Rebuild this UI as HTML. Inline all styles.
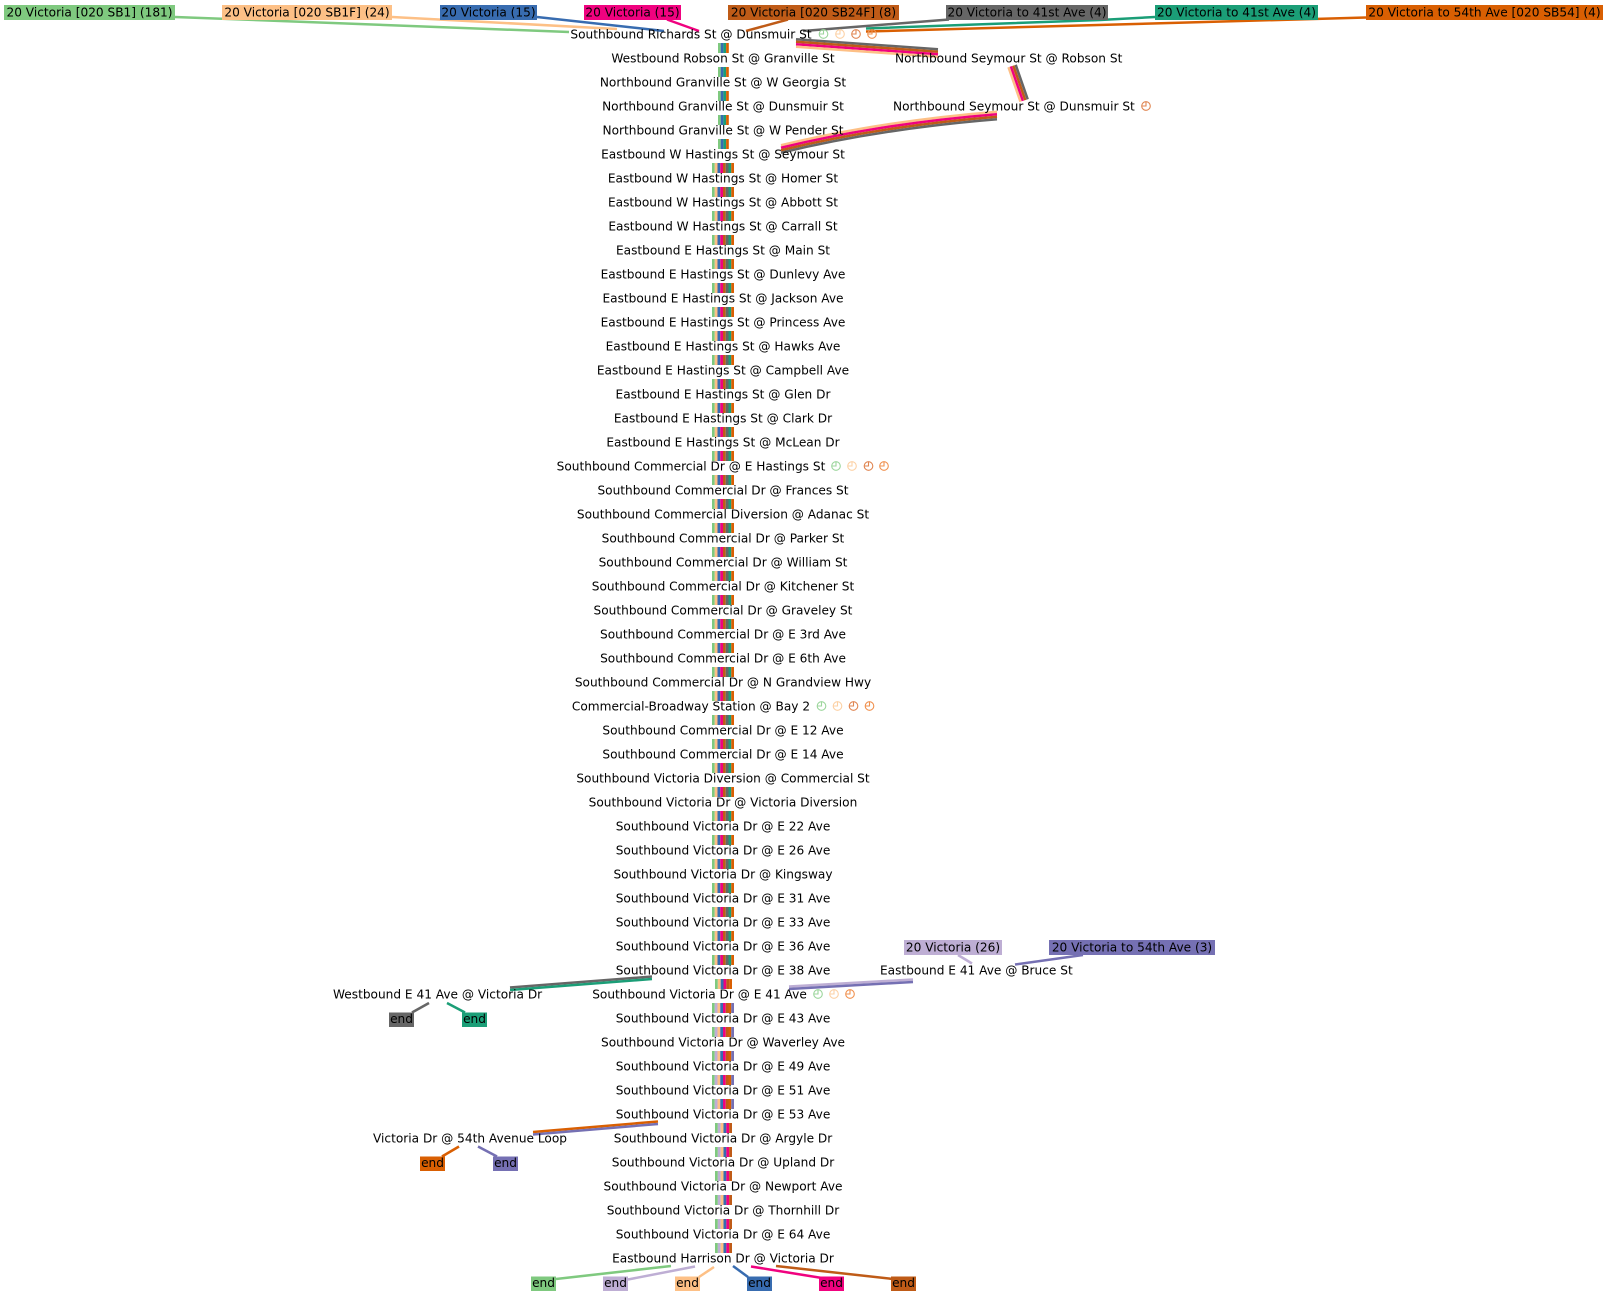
<!DOCTYPE html>
<html><head><meta charset="utf-8"><style>
html,body{margin:0;padding:0;background:#fff;}
svg{display:block;}
text{font-family:"DejaVu Sans","Liberation Sans",sans-serif;font-size:12.15px;fill:#000;}
</style></head><body>
<svg width="1609" height="1296" viewBox="0 0 1609 1296" xmlns="http://www.w3.org/2000/svg">
<rect width="1609" height="1296" fill="#fff"/>

<!-- top route edges -->
<g fill="none" stroke-width="2.5">
<line x1="175" y1="17" x2="569" y2="32" stroke="#7fc97f"/>
<line x1="392" y1="17" x2="617" y2="29" stroke="#fdc086"/>
<line x1="537" y1="17" x2="664" y2="31" stroke="#386cb0"/>
<line x1="667" y1="19.5" x2="699" y2="31" stroke="#f0027f"/>
<line x1="788" y1="19.5" x2="746" y2="31" stroke="#bf5b17"/>
<line x1="949" y1="19.5" x2="803" y2="31" stroke="#666666"/>
<polyline points="1155,17 1100,20 866,28.5" stroke="#1b9e77"/>
<line x1="1366" y1="17.5" x2="866" y2="31.5" stroke="#d95f02"/>
</g>

<!-- top boxes -->
<g>
<rect x="4" y="5" width="171" height="15" fill="#7fc97f"/>
<rect x="222" y="5" width="170" height="15" fill="#fdc086"/>
<rect x="440" y="5" width="97" height="15" fill="#386cb0"/>
<rect x="584" y="5" width="97" height="15" fill="#f0027f"/>
<rect x="728" y="5" width="171" height="15" fill="#bf5b17"/>
<rect x="946" y="5" width="162" height="15" fill="#666666"/>
<rect x="1155" y="5" width="163" height="15" fill="#1b9e77"/>
<rect x="1366" y="5" width="237" height="15" fill="#d95f02"/>
</g>
<g text-anchor="middle">
<text x="89.5" y="16.5">20 Victoria [020 SB1] (181)</text>
<text x="307" y="16.5">20 Victoria [020 SB1F] (24)</text>
<text x="488.5" y="16.5">20 Victoria (15)</text>
<text x="632.5" y="16.5">20 Victoria (15)</text>
<text x="813.5" y="16.5">20 Victoria [020 SB24F] (8)</text>
<text x="1027" y="16.5">20 Victoria to 41st Ave (4)</text>
<text x="1236.5" y="16.5">20 Victoria to 41st Ave (4)</text>
<text x="1484.5" y="16.5">20 Victoria to 54th Ave [020 SB54] (4)</text>
</g>

<!-- Seymour bands -->
<g fill="none" stroke-width="2.5">
<line x1="796" y1="39.25" x2="938" y2="49.25" stroke="#666666"/>
<line x1="796" y1="41.75" x2="938" y2="51.75" stroke="#bf5b17"/>
<line x1="796" y1="44.25" x2="938" y2="54.25" stroke="#f0027f"/>
<line x1="796" y1="46.75" x2="938" y2="56.75" stroke="#fdc086"/>

<line x1="1008.5" y1="67.2" x2="1020.5" y2="101.7" stroke="#fdc086"/>
<line x1="1010.9" y1="66.4" x2="1022.9" y2="100.9" stroke="#f0027f"/>
<line x1="1013.3" y1="65.6" x2="1025.3" y2="100.1" stroke="#bf5b17"/>
<line x1="1015.7" y1="64.8" x2="1027.7" y2="99.3" stroke="#666666"/>

<path d="M997,111.75 Q880,121.25 781,145.25" stroke="#fdc086"/>
<path d="M997,114.25 Q880,123.75 781,147.75" stroke="#f0027f"/>
<path d="M997,116.75 Q880,126.25 781,150.25" stroke="#bf5b17"/>
<path d="M997,119.25 Q880,128.75 781,152.75" stroke="#666666"/>
</g>

<!-- trunk stripes -->
<g fill="none" stroke-dasharray="10 14">
<g stroke-width="2.7">
<line x1="719.35" y1="43" x2="719.35" y2="149" stroke="#7fc97f"/>
<line x1="722.05" y1="43" x2="722.05" y2="149" stroke="#386cb0"/>
<line x1="724.75" y1="43" x2="724.75" y2="149" stroke="#1b9e77"/>
<line x1="727.45" y1="43" x2="727.45" y2="149" stroke="#d95f02"/>
</g>
<g stroke-width="2.75">
<line x1="713.375" y1="163" x2="713.375" y2="965" stroke="#7fc97f"/>
<line x1="716.125" y1="163" x2="716.125" y2="965" stroke="#fdc086"/>
<line x1="718.875" y1="163" x2="718.875" y2="965" stroke="#386cb0"/>
<line x1="721.625" y1="163" x2="721.625" y2="965" stroke="#f0027f"/>
<line x1="724.375" y1="163" x2="724.375" y2="965" stroke="#bf5b17"/>
<line x1="727.125" y1="163" x2="727.125" y2="965" stroke="#666666"/>
<line x1="729.875" y1="163" x2="729.875" y2="965" stroke="#1b9e77"/>
<line x1="732.625" y1="163" x2="732.625" y2="965" stroke="#d95f02"/>

<line x1="713.375" y1="1003" x2="713.375" y2="1109" stroke="#7fc97f"/>
<line x1="716.125" y1="1003" x2="716.125" y2="1109" stroke="#beaed4"/>
<line x1="718.875" y1="1003" x2="718.875" y2="1109" stroke="#fdc086"/>
<line x1="721.625" y1="1003" x2="721.625" y2="1109" stroke="#386cb0"/>
<line x1="724.375" y1="1003" x2="724.375" y2="1109" stroke="#f0027f"/>
<line x1="727.125" y1="1003" x2="727.125" y2="1109" stroke="#bf5b17"/>
<line x1="729.875" y1="1003" x2="729.875" y2="1109" stroke="#d95f02"/>
<line x1="732.625" y1="1003" x2="732.625" y2="1109" stroke="#7570b3"/>
</g>
<g stroke-width="2.83">
<line x1="716.42" y1="979" x2="716.42" y2="989" stroke="#7fc97f"/>
<line x1="719.25" y1="979" x2="719.25" y2="989" stroke="#fdc086"/>
<line x1="722.08" y1="979" x2="722.08" y2="989" stroke="#386cb0"/>
<line x1="724.92" y1="979" x2="724.92" y2="989" stroke="#f0027f"/>
<line x1="727.75" y1="979" x2="727.75" y2="989" stroke="#bf5b17"/>
<line x1="730.58" y1="979" x2="730.58" y2="989" stroke="#d95f02"/>

<line x1="716.42" y1="1123" x2="716.42" y2="1253" stroke="#7fc97f"/>
<line x1="719.25" y1="1123" x2="719.25" y2="1253" stroke="#beaed4"/>
<line x1="722.08" y1="1123" x2="722.08" y2="1253" stroke="#fdc086"/>
<line x1="724.92" y1="1123" x2="724.92" y2="1253" stroke="#386cb0"/>
<line x1="727.75" y1="1123" x2="727.75" y2="1253" stroke="#f0027f"/>
<line x1="730.58" y1="1123" x2="730.58" y2="1253" stroke="#bf5b17"/>
</g>
</g>

<!-- branch bands and end edges -->
<g fill="none" stroke-width="2.5">
<line x1="510" y1="987.5" x2="652" y2="976.5" stroke="#666666"/>
<line x1="510" y1="990" x2="652" y2="979" stroke="#1b9e77"/>
<line x1="429" y1="1003" x2="412" y2="1012.5" stroke="#666666"/>
<line x1="447" y1="1003" x2="465" y2="1012.5" stroke="#1b9e77"/>

<line x1="789" y1="986.5" x2="913" y2="979.5" stroke="#beaed4"/>
<line x1="789" y1="989" x2="913" y2="982" stroke="#7570b3"/>
<line x1="958" y1="955" x2="972" y2="963.5" stroke="#beaed4"/>
<line x1="1083" y1="955" x2="1015" y2="964.5" stroke="#7570b3"/>

<line x1="533" y1="1132" x2="658" y2="1121.5" stroke="#d95f02"/>
<line x1="533" y1="1134.5" x2="658" y2="1124" stroke="#7570b3"/>
<line x1="459" y1="1146.5" x2="442" y2="1156.5" stroke="#d95f02"/>
<line x1="478" y1="1146.5" x2="497" y2="1156.5" stroke="#7570b3"/>

<line x1="671" y1="1266" x2="556" y2="1279" stroke="#7fc97f"/>
<line x1="695" y1="1266.5" x2="628" y2="1279.5" stroke="#beaed4"/>
<line x1="714" y1="1267" x2="699" y2="1277" stroke="#fdc086"/>
<line x1="733" y1="1266" x2="748" y2="1277" stroke="#386cb0"/>
<line x1="751" y1="1266.5" x2="822" y2="1278" stroke="#f0027f"/>
<line x1="776" y1="1266" x2="893" y2="1279" stroke="#bf5b17"/>
</g>

<!-- end / route boxes -->
<g>
<rect x="904" y="940" width="98" height="15" fill="#beaed4"/>
<rect x="1049" y="940" width="166" height="15" fill="#7570b3"/>
<rect x="389" y="1012.5" width="25" height="14.5" fill="#666666"/>
<rect x="462" y="1012.5" width="25" height="14.5" fill="#1b9e77"/>
<rect x="420" y="1156.5" width="25" height="14.5" fill="#d95f02"/>
<rect x="493" y="1156.5" width="25" height="14.5" fill="#7570b3"/>
<rect x="531" y="1276.5" width="25" height="14.5" fill="#7fc97f"/>
<rect x="603" y="1276.5" width="25" height="14.5" fill="#beaed4"/>
<rect x="675" y="1276.5" width="25" height="14.5" fill="#fdc086"/>
<rect x="747" y="1276.5" width="25" height="14.5" fill="#386cb0"/>
<rect x="819" y="1276.5" width="25" height="14.5" fill="#f0027f"/>
<rect x="891" y="1276.5" width="25" height="14.5" fill="#bf5b17"/>
</g>
<g text-anchor="middle">
<text x="953" y="951.5">20 Victoria (26)</text>
<text x="1132" y="951.5">20 Victoria to 54th Ave (3)</text>
<text x="401.5" y="1023">end</text>
<text x="474.5" y="1023">end</text>
<text x="432.5" y="1167">end</text>
<text x="505.5" y="1167">end</text>
<text x="543.5" y="1287">end</text>
<text x="615.5" y="1287">end</text>
<text x="687.5" y="1287">end</text>
<text x="759.5" y="1287">end</text>
<text x="831.5" y="1287">end</text>
<text x="903.5" y="1287">end</text>
</g>

<!-- trunk labels -->
<g text-anchor="middle" transform="translate(0,1)">
<text x="691" y="37.7">Southbound Richards St @ Dunsmuir St</text>
<text x="723" y="61.7">Westbound Robson St @ Granville St</text>
<text x="723" y="85.7">Northbound Granville St @ W Georgia St</text>
<text x="723" y="109.7">Northbound Granville St @ Dunsmuir St</text>
<text x="723" y="133.7">Northbound Granville St @ W Pender St</text>
<text x="723" y="157.7">Eastbound W Hastings St @ Seymour St</text>
<text x="723" y="181.7">Eastbound W Hastings St @ Homer St</text>
<text x="723" y="205.7">Eastbound W Hastings St @ Abbott St</text>
<text x="723" y="229.7">Eastbound W Hastings St @ Carrall St</text>
<text x="723" y="253.7">Eastbound E Hastings St @ Main St</text>
<text x="723" y="277.7">Eastbound E Hastings St @ Dunlevy Ave</text>
<text x="723" y="301.7">Eastbound E Hastings St @ Jackson Ave</text>
<text x="723" y="325.7">Eastbound E Hastings St @ Princess Ave</text>
<text x="723" y="349.7">Eastbound E Hastings St @ Hawks Ave</text>
<text x="723" y="373.7">Eastbound E Hastings St @ Campbell Ave</text>
<text x="723" y="397.7">Eastbound E Hastings St @ Glen Dr</text>
<text x="723" y="421.7">Eastbound E Hastings St @ Clark Dr</text>
<text x="723" y="445.7">Eastbound E Hastings St @ McLean Dr</text>
<text x="691" y="469.7">Southbound Commercial Dr @ E Hastings St</text>
<text x="723" y="493.7">Southbound Commercial Dr @ Frances St</text>
<text x="723" y="517.7">Southbound Commercial Diversion @ Adanac St</text>
<text x="723" y="541.7">Southbound Commercial Dr @ Parker St</text>
<text x="723" y="565.7">Southbound Commercial Dr @ William St</text>
<text x="723" y="589.7">Southbound Commercial Dr @ Kitchener St</text>
<text x="723" y="613.7">Southbound Commercial Dr @ Graveley St</text>
<text x="723" y="637.7">Southbound Commercial Dr @ E 3rd Ave</text>
<text x="723" y="661.7">Southbound Commercial Dr @ E 6th Ave</text>
<text x="723" y="685.7">Southbound Commercial Dr @ N Grandview Hwy</text>
<text x="691" y="709.7">Commercial-Broadway Station @ Bay 2</text>
<text x="723" y="733.7">Southbound Commercial Dr @ E 12 Ave</text>
<text x="723" y="757.7">Southbound Commercial Dr @ E 14 Ave</text>
<text x="723" y="781.7">Southbound Victoria Diversion @ Commercial St</text>
<text x="723" y="805.7">Southbound Victoria Dr @ Victoria Diversion</text>
<text x="723" y="829.7">Southbound Victoria Dr @ E 22 Ave</text>
<text x="723" y="853.7">Southbound Victoria Dr @ E 26 Ave</text>
<text x="723" y="877.7">Southbound Victoria Dr @ Kingsway</text>
<text x="723" y="901.7">Southbound Victoria Dr @ E 31 Ave</text>
<text x="723" y="925.7">Southbound Victoria Dr @ E 33 Ave</text>
<text x="723" y="949.7">Southbound Victoria Dr @ E 36 Ave</text>
<text x="723" y="973.7">Southbound Victoria Dr @ E 38 Ave</text>
<text x="699.5" y="997.7">Southbound Victoria Dr @ E 41 Ave</text>
<text x="723" y="1021.7">Southbound Victoria Dr @ E 43 Ave</text>
<text x="723" y="1045.7">Southbound Victoria Dr @ Waverley Ave</text>
<text x="723" y="1069.7">Southbound Victoria Dr @ E 49 Ave</text>
<text x="723" y="1093.7">Southbound Victoria Dr @ E 51 Ave</text>
<text x="723" y="1117.7">Southbound Victoria Dr @ E 53 Ave</text>
<text x="723" y="1141.7">Southbound Victoria Dr @ Argyle Dr</text>
<text x="723" y="1165.7">Southbound Victoria Dr @ Upland Dr</text>
<text x="723" y="1189.7">Southbound Victoria Dr @ Newport Ave</text>
<text x="723" y="1213.7">Southbound Victoria Dr @ Thornhill Dr</text>
<text x="723" y="1237.7">Southbound Victoria Dr @ E 64 Ave</text>
<text x="723" y="1261.7">Eastbound Harrison Dr @ Victoria Dr</text>
</g>

<!-- side labels -->
<g transform="translate(0,1)">
<text x="895" y="61.7">Northbound Seymour St @ Robson St</text>
<text x="893" y="109.7">Northbound Seymour St @ Dunsmuir St</text>
<text x="333" y="997.7">Westbound E 41 Ave @ Victoria Dr</text>
<text x="880" y="973.7">Eastbound E 41 Ave @ Bruce St</text>
<text x="373" y="1141.7">Victoria Dr @ 54th Avenue Loop</text>
</g>

<!-- clock icons -->
<defs>
<g id="clk"><circle cx="0" cy="0" r="4.3" fill="none" stroke-width="1.1"/><path d="M0,-4.3 V0 H-4.3" fill="none" stroke-width="1.1"/></g>
</defs>
<g>
<use href="#clk" x="823.5" y="34" stroke="#9cd69c"/>
<use href="#clk" x="840" y="34" stroke="#fcd1a5"/>
<use href="#clk" x="856" y="34" stroke="#e08652"/>
<use href="#clk" x="872" y="34" stroke="#f0914f"/>

<use href="#clk" x="836" y="466" stroke="#9cd69c"/>
<use href="#clk" x="852" y="466" stroke="#fcd1a5"/>
<use href="#clk" x="868.5" y="466" stroke="#e08652"/>
<use href="#clk" x="884" y="466" stroke="#f0914f"/>

<use href="#clk" x="821.5" y="706" stroke="#9cd69c"/>
<use href="#clk" x="837.5" y="706" stroke="#fcd1a5"/>
<use href="#clk" x="853.5" y="706" stroke="#e08652"/>
<use href="#clk" x="869.5" y="706" stroke="#f0914f"/>

<use href="#clk" x="818" y="994" stroke="#9cd69c"/>
<use href="#clk" x="834" y="994" stroke="#fcd1a5"/>
<use href="#clk" x="850" y="994" stroke="#f0914f"/>

<use href="#clk" x="1146" y="106" stroke="#e08652"/>
</g>
</svg>
</body></html>
